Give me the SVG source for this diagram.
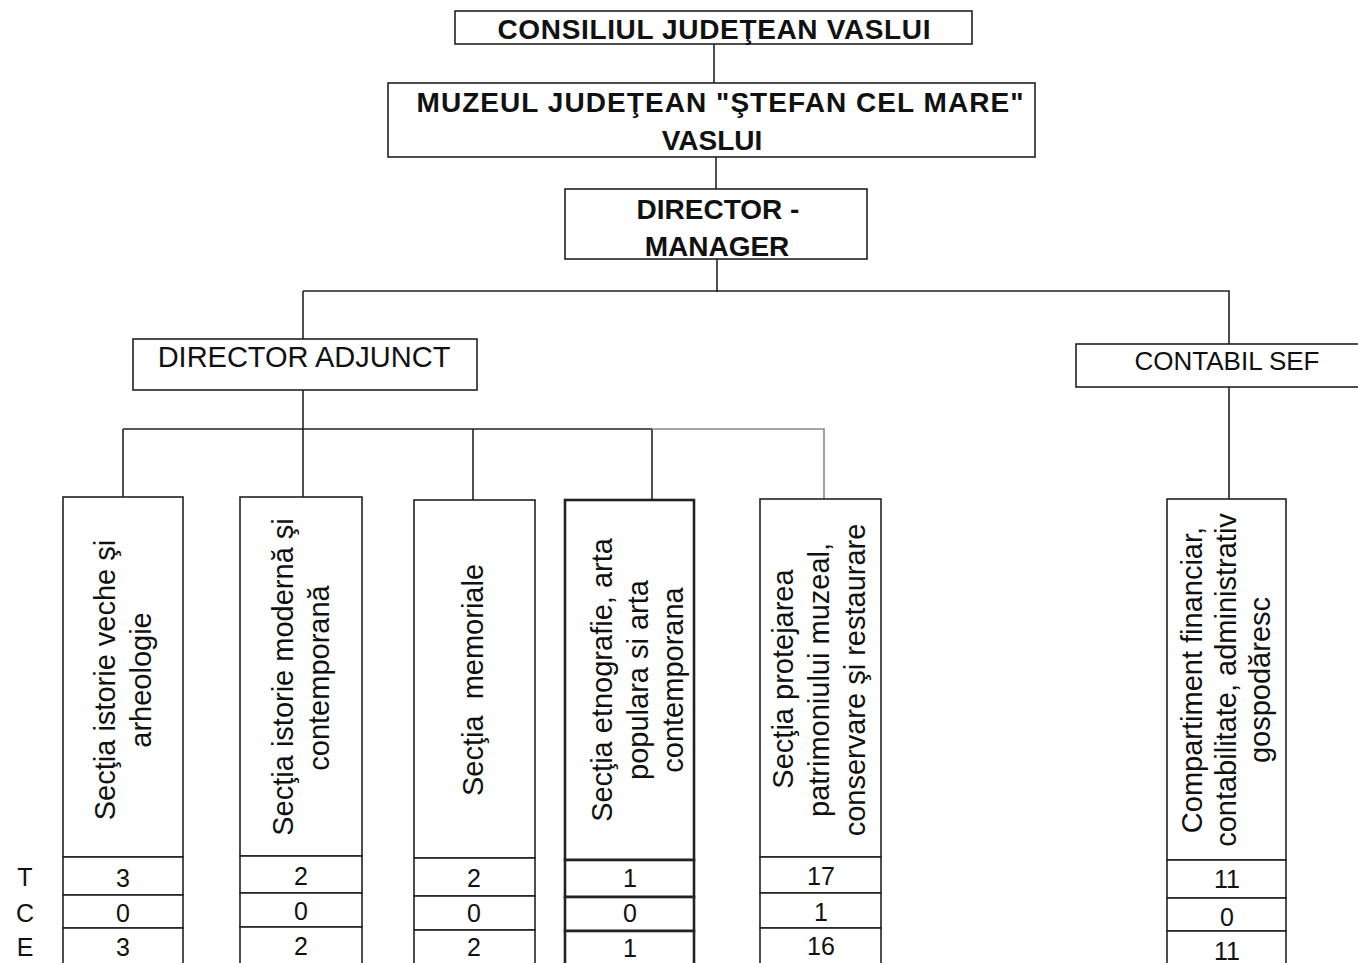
<svg xmlns="http://www.w3.org/2000/svg" width="1358" height="963" viewBox="0 0 1358 963">
<style>
  .box{fill:#fff;stroke:#222;stroke-width:1.6}
  .thick{stroke-width:2.6}
  .ln{stroke:#222;stroke-width:1.6;fill:none}
  .lg{stroke:#888;stroke-width:1.6;fill:none}
  .b{font-family:"Liberation Sans",Arial,sans-serif;font-weight:bold;font-size:28px;fill:#111;text-anchor:middle}
  .n{font-family:"Liberation Sans",Arial,sans-serif;font-size:29px;fill:#111;text-anchor:middle}
  .r{font-family:"Liberation Sans",Arial,sans-serif;font-size:29px;fill:#111;text-anchor:middle}
  .num{font-family:"Liberation Sans",Arial,sans-serif;font-size:25px;fill:#111;text-anchor:middle}
</style>
<rect width="1358" height="963" fill="#fff"/>
<g id="connectors">
  <path class="ln" d="M714,44 V83"/>
  <path class="ln" d="M716,157 V189"/>
  <path class="ln" d="M717,259 V292"/>
  <path class="ln" d="M303,291 H1229 V500"/>
  <path class="ln" d="M303,291 V339"/>
  <path class="ln" d="M303,390 V497"/>
  <path class="ln" d="M123,429 H652"/>
  <path class="ln" d="M123,429 V497"/>
  <path class="ln" d="M473,429 V500"/>
  <path class="ln" d="M652,429 V500"/>
  <path class="lg" d="M652,429 H824 V499"/>
</g>
<g id="consiliul">
  <rect class="box" x="455" y="11" width="517" height="33"/>
  <text class="b" x="714" y="39" textLength="433" lengthAdjust="spacing">CONSILIUL JUDEŢEAN VASLUI</text>
</g>
<g id="muzeul">
  <rect class="box" x="388" y="83" width="647" height="74"/>
  <text class="b" x="720" y="112" textLength="607" lengthAdjust="spacing">MUZEUL JUDEŢEAN "ŞTEFAN CEL MARE"</text>
  <text class="b" x="712" y="150">VASLUI</text>
</g>
<g id="director-manager">
  <rect class="box" x="565" y="189" width="302" height="70"/>
  <text class="b" x="718" y="219">DIRECTOR -</text>
  <text class="b" x="717" y="256">MANAGER</text>
</g>
<g id="director-adjunct">
  <rect class="box" x="133" y="339" width="344" height="51"/>
  <text class="n" x="304" y="367">DIRECTOR ADJUNCT</text>
</g>
<g id="contabil-sef">
  <rect class="box" x="1076" y="344" width="290" height="43"/>
  <text class="n" x="1227" y="370" style="font-size:26px">CONTABIL SEF</text>
</g>
<g id="sectia-istorie-veche">
  <rect class="box" x="63" y="497" width="120" height="360"/>
  <rect class="box" x="63" y="857" width="120" height="38"/>
  <rect class="box" x="63" y="895" width="120" height="33"/>
  <rect class="box" x="63" y="928" width="120" height="40"/>
  <text class="r" transform="translate(115,680) rotate(-90)">Secţia istorie veche şi</text>
  <text class="r" transform="translate(151,680) rotate(-90)">arheologie</text>
  <text class="num" x="123" y="887">3</text>
  <text class="num" x="123" y="922">0</text>
  <text class="num" x="123" y="956">3</text>
</g>
<g id="sectia-istorie-moderna">
  <rect class="box" x="240" y="497" width="122" height="359"/>
  <rect class="box" x="240" y="856" width="122" height="37"/>
  <rect class="box" x="240" y="893" width="122" height="34"/>
  <rect class="box" x="240" y="927" width="122" height="41"/>
  <text class="r" transform="translate(293,677) rotate(-90)">Secţia istorie modernă şi</text>
  <text class="r" transform="translate(329,678) rotate(-90)">contemporană</text>
  <text class="num" x="301" y="885">2</text>
  <text class="num" x="301" y="920">0</text>
  <text class="num" x="301" y="955">2</text>
</g>
<g id="sectia-memoriale">
  <rect class="box" x="414" y="500" width="121" height="358"/>
  <rect class="box" x="414" y="858" width="121" height="38"/>
  <rect class="box" x="414" y="896" width="121" height="34"/>
  <rect class="box" x="414" y="930" width="121" height="38"/>
  <text class="r" transform="translate(483,680) rotate(-90)" style="white-space:pre">Secţia  memoriale</text>
  <text class="num" x="474" y="887">2</text>
  <text class="num" x="474" y="922">0</text>
  <text class="num" x="474" y="956">2</text>
</g>
<g id="sectia-etnografie">
  <rect class="box thick" x="565" y="500" width="129" height="360"/>
  <rect class="box thick" x="565" y="860" width="129" height="37"/>
  <rect class="box thick" x="565" y="897" width="129" height="34"/>
  <rect class="box thick" x="565" y="931" width="129" height="37"/>
  <text class="r" transform="translate(612,680) rotate(-90)">Secţia etnografie, arta</text>
  <text class="r" transform="translate(648,680) rotate(-90)">populara si arta</text>
  <text class="r" transform="translate(683,680) rotate(-90)">contemporana</text>
  <text class="num" x="630" y="887">1</text>
  <text class="num" x="630" y="922">0</text>
  <text class="num" x="630" y="957">1</text>
</g>
<g id="sectia-protejarea">
  <rect class="box" x="760" y="499" width="121" height="358"/>
  <rect class="box" x="760" y="857" width="121" height="36"/>
  <rect class="box" x="760" y="893" width="121" height="35"/>
  <rect class="box" x="760" y="928" width="121" height="40"/>
  <text class="r" transform="translate(793,679) rotate(-90)">Secţia protejarea</text>
  <text class="r" transform="translate(829,680) rotate(-90)">patrimoniului muzeal,</text>
  <text class="r" transform="translate(865,680) rotate(-90)">conservare şi restaurare</text>
  <text class="num" x="821" y="885">17</text>
  <text class="num" x="821" y="921">1</text>
  <text class="num" x="821" y="955">16</text>
</g>
<g id="compartiment-financiar">
  <rect class="box" x="1167" y="499" width="119" height="361"/>
  <rect class="box" x="1167" y="860" width="119" height="38"/>
  <rect class="box" x="1167" y="898" width="119" height="33"/>
  <rect class="box" x="1167" y="931" width="119" height="37"/>
  <text class="r" transform="translate(1202,680) rotate(-90)">Compartiment financiar,</text>
  <text class="r" transform="translate(1236,680) rotate(-90)">contabilitate, administrativ</text>
  <text class="r" transform="translate(1270,680) rotate(-90)">gospodăresc</text>
  <text class="num" x="1227" y="888">11</text>
  <text class="num" x="1227" y="926">0</text>
  <text class="num" x="1227" y="960">11</text>
</g>
<g id="legend">
  <text class="num" x="25" y="886">T</text>
  <text class="num" x="25" y="922">C</text>
  <text class="num" x="25" y="956">E</text>
</g>
</svg>
